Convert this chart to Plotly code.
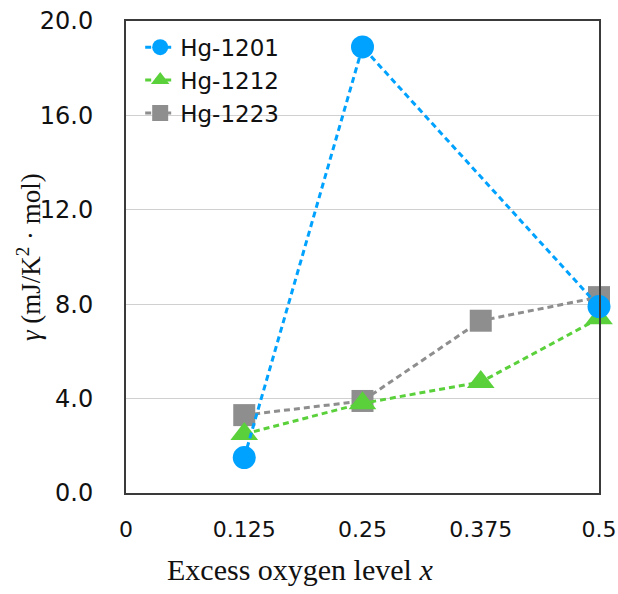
import plotly.graph_objects as go

x_vals = [0.125, 0.25, 0.375, 0.5]
hg1201_x = [0.125, 0.25, 0.5]
hg1201 = [1.5, 18.9, 7.9]
hg1212 = [2.5, 3.8, 4.7, 7.4]
hg1223 = [3.3, 3.9, 7.3, 8.3]
x_ticks = [0, 0.125, 0.25, 0.375, 0.5]
x_ticktext = ["0", "0.125", "0.25", "0.375", "0.5"]
y_ticks = [0, 4, 8, 12, 16, 20]

BLUE = "#00A2FF"
GREEN = "#5AD13A"
GRAY = "#8E8E8E"
SANS = "DejaVu Sans, Liberation Sans, Arial, sans-serif"
SERIF = "Liberation Serif, Times New Roman, serif"

fig = go.Figure()
fig.add_trace(go.Scatter(
    x=x_vals, y=hg1223, name="Hg-1223", mode="lines+markers",
    line=dict(color=GRAY, width=3, dash="6px,4px"),
    marker=dict(symbol="square", size=22, color=GRAY),
    cliponaxis=False,
))
fig.add_trace(go.Scatter(
    x=x_vals, y=hg1212, name="Hg-1212", mode="lines+markers",
    line=dict(color=GREEN, width=3, dash="6px,4px"),
    marker=dict(symbol="triangle-up", size=24, color=GREEN),
    cliponaxis=False,
))
fig.add_trace(go.Scatter(
    x=hg1201_x, y=hg1201, name="Hg-1201", mode="lines+markers",
    line=dict(color=BLUE, width=3, dash="6px,4px"),
    marker=dict(symbol="circle", size=23, color=BLUE),
    cliponaxis=False,
))

fig.update_layout(
    width=618, height=594,
    margin=dict(l=126, r=19, t=21, b=101),
    paper_bgcolor="white", plot_bgcolor="white",
    showlegend=True,
    legend=dict(
        x=0.03, y=0.99, xanchor="left", yanchor="top",
        bgcolor="rgba(0,0,0,0)", traceorder="reversed",
        font=dict(family=SANS, size=23, color="#111"),
        itemwidth=30,
    ),
    font=dict(family=SANS, size=23, color="#111"),
    annotations=[
        dict(text="Excess oxygen level <i>x</i>", xref="paper", yref="paper",
             x=0.368, y=-0.162, xanchor="center", yanchor="middle",
             showarrow=False, font=dict(family=SERIF, size=30, color="#111")),
        dict(text="<i>γ</i> (mJ/K<sup>2</sup> · mol)", xref="paper", yref="paper",
             x=-0.205, y=0.5, xanchor="center", yanchor="middle", textangle=-90,
             showarrow=False, font=dict(family=SERIF, size=27, color="#111")),
    ],
)
fig.update_xaxes(
    range=[0, 0.5], tickvals=x_ticks, ticktext=x_ticktext,
    showgrid=False, zeroline=False, automargin=False,
    showline=True, mirror=True, linecolor="#3a3a3a", linewidth=2,
    ticks="", ticklabelstandoff=16, ticklabeloverflow="allow",
    tickfont=dict(family=SANS, size=22, color="#111"),
)
fig.update_yaxes(
    range=[0, 20], tickvals=y_ticks, tickformat=".1f",
    showgrid=True, gridcolor="#D0D0D0", gridwidth=1, zeroline=False,
    automargin=False,
    showline=True, mirror=True, linecolor="#3a3a3a", linewidth=2,
    ticks="", ticklabelstandoff=26, ticklabeloverflow="allow",
    tickfont=dict(family=SANS, size=24, color="#111"),
)

fig.write_html("out.html")
